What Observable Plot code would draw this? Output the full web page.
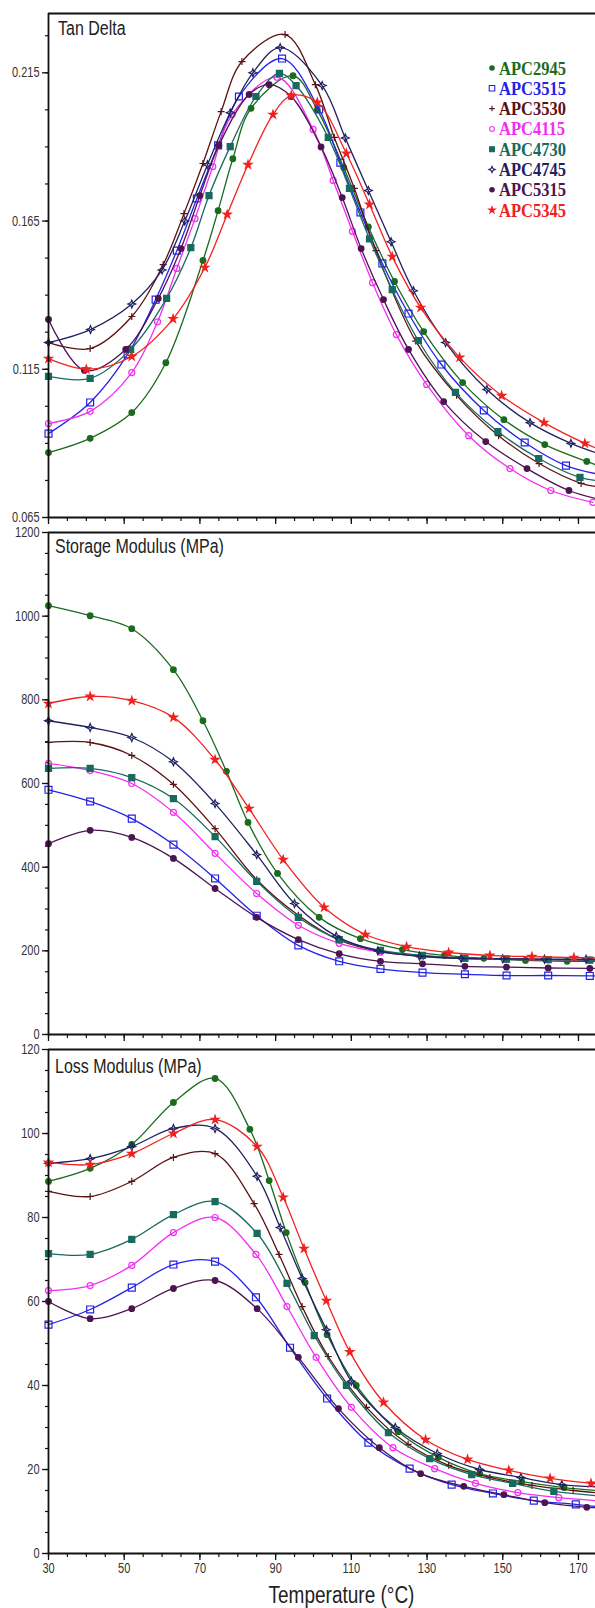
<!DOCTYPE html>
<html><head><meta charset="utf-8">
<script src="https://cdn.jsdelivr.net/npm/d3@7"></script>
<script src="https://cdn.jsdelivr.net/npm/@observablehq/plot@0.6"></script>
<style>
html,body{margin:0;padding:0;background:#fff;}
#wrap{position:relative;width:595px;height:1608px;overflow:hidden;background:#fff;}
#wrap svg.panel{display:block;}
#overlay{position:absolute;left:0;top:0;pointer-events:none;}
</style></head><body><div id="wrap"></div>
<script>
// ---------------- DATA ----------------
const seriesNames = ["APC2945","APC3515","APC3530","APC4115","APC4730","APC4745","APC5315","APC5345"];
const panelTitles = ["Tan Delta","Storage Modulus (MPa)","Loss Modulus (MPa)"];
const xAxisTitle = "Temperature (\u00B0C)";
const xTickLabels = [30,50,70,90,110,130,150,170];
const tanTicks = [0.065,0.115,0.165,0.215];
const storageTicks = [0,200,400,600,800,1000,1200];
const lossTicks = [0,20,40,60,80,100,120];

// Tan Delta [temperature, value]
const tan2945 = [[30,0.0869],[41,0.0917],[52,0.1004],[61,0.1172],[70.8,0.1517],[74.8,0.1685],[78.7,0.186],[83.5,0.203],[94.6,0.214],[101,0.2025],[108,0.183],[114.5,0.163],[121.4,0.1446],[129.1,0.1277],[139.4,0.1105],[150.3,0.098],[161.1,0.0896],[172.2,0.0839],[174.5,0.0828]];
const tan3515 = [[30,0.0933],[41,0.1038],[50.9,0.120],[58.3,0.1385],[63.9,0.155],[69.2,0.1726],[74.8,0.1905],[80.3,0.207],[91.7,0.2198],[101.5,0.2026],[107.1,0.1847],[112.4,0.1679],[118.2,0.1507],[125.1,0.1338],[133.8,0.1166],[145,0.1011],[155.8,0.0903],[166.7,0.0825],[174.5,0.0798]];
const tan3530 = [[30,0.124],[41,0.122],[52,0.1328],[60.3,0.1503],[65.8,0.1675],[70.8,0.1844],[75.6,0.2019],[81.1,0.2188],[92.5,0.2279],[100.5,0.211],[105.5,0.1932],[110.8,0.176],[116.5,0.155],[127,0.1245],[137.8,0.1062],[148.9,0.0926],[159.6,0.0832],[170.7,0.0765],[174.5,0.0755]];
const tan4115 = [[30,0.0967],[41,0.1008],[52,0.1139],[58.8,0.131],[63.9,0.149],[68.7,0.1658],[73.4,0.1834],[78.5,0.2009],[90.4,0.2135],[99.9,0.1959],[105.2,0.1787],[110.3,0.1615],[115.6,0.1442],[121.9,0.1267],[129.9,0.1099],[141,0.0926],[151.9,0.0815],[162.7,0.0741],[173.8,0.0701]];
const tan4730 = [[30,0.1126],[41,0.1119],[51.7,0.1217],[61.2,0.1389],[67.6,0.156],[72.4,0.1736],[78,0.1901],[84.8,0.207],[91,0.2148],[95.4,0.2107],[103.9,0.1932],[109.5,0.176],[114.8,0.159],[120.8,0.1419],[127.7,0.1247],[137.5,0.1072],[148.7,0.094],[159.5,0.0849],[170.4,0.0785],[174.5,0.0775]];
const tan4745 = [[30,0.124],[41.1,0.1284],[52,0.137],[60,0.1485],[66,0.165],[72,0.184],[78,0.2015],[84,0.215],[91.2,0.2235],[102.3,0.2107],[108.4,0.193],[114.5,0.1753],[120.5,0.158],[126.4,0.1415],[134.9,0.124],[145.8,0.1082],[157.2,0.097],[168,0.090],[174.5,0.0869]];
const tan5315 = [[30,0.1318],[39.5,0.1146],[50.4,0.1217],[59,0.1389],[65,0.1557],[70,0.1736],[75,0.1905],[83,0.2077],[88.3,0.211],[94.1,0.207],[102,0.190],[107.6,0.1729],[112.6,0.1557],[118.5,0.1385],[125.1,0.1217],[134.4,0.1041],[145.5,0.0906],[156.4,0.0815],[167.5,0.0741],[174.5,0.0714]];
const tan5345 = [[30,0.1186],[40,0.115],[52,0.1193],[62.9,0.132],[71.3,0.1493],[77.2,0.1672],[82.7,0.184],[89.3,0.2009],[94.1,0.2073],[101,0.205],[108.7,0.1878],[114.8,0.1706],[120.8,0.153],[128.3,0.1358],[138.6,0.119],[149.7,0.1061],[160.9,0.097],[171.7,0.090],[174.5,0.0885]];

// Storage modulus (MPa)
const st2945 = [[30,1025],[41,1001],[52,970],[63,872],[70.8,750],[77,629],[82.7,507],[90.5,385],[101.5,280],[112.4,229],[123.5,203],[134.6,189],[145,182],[156,177],[167,175],[174.5,175]];
const st3515 = [[30,585],[41,557],[52,516],[63,454],[74,373],[85,284],[96,213],[106.8,175],[117.7,157],[128.8,148],[140,144],[151,141],[162,141],[173,140],[174.5,140]];
const st3530 = [[30,698],[41,698],[52,667],[63,598],[74,492],[85,370],[96,285],[107,225],[118,198],[129,187],[140,182],[151,180],[162,179],[173,178],[174.5,178]];
const st4115 = [[30,648],[41,631],[52,600],[63,531],[74,433],[85,337],[96,261],[106.8,218],[117.7,197],[128.8,188],[140,182],[151,180],[162,179],[173,178],[174.5,178]];
const st4730 = [[30,636],[41,636],[52,614],[63,564],[74,473],[85,366],[96,280],[106.8,227],[117.7,201],[128.8,189],[140,182],[151,180],[162,179],[173,178],[174.5,178]];
const st4745 = [[30,750],[41,734],[52,710],[63,652],[74,552],[85,430],[95,313],[106,235],[117,200],[128,187],[139,182],[150,181],[161,180],[172,180],[174.5,180]];
const st5315 = [[30,456],[41,488],[52,471],[63,421],[74,349],[85,280],[96,227],[106.8,193],[117.7,175],[128.8,169],[140,163],[151,161],[162,159],[173,158],[174.5,158]];
const st5345 = [[30,791],[41,808],[52,798],[63,758],[74,657],[83,540],[92,418],[102.8,304],[113.7,239],[124.6,210],[135.7,196],[146.6,189],[157.7,186],[168.8,184],[174.5,183]];

// Loss modulus (MPa)
const loss2945 = [[30,88.6],[41,91.7],[52,97.4],[63,107.4],[74,113.1],[83.2,101],[88.3,88.8],[92.8,76.4],[97.8,64.5],[103.6,52.1],[111.3,40.0],[122.4,29.0],[133,22.9],[143.9,19.0],[155,17.1],[166.2,15.7],[174.5,15.0]];
const loss3515 = [[30,54.5],[41,58.1],[52,63.3],[63,68.8],[74,69.5],[84.8,61.0],[93.8,49.0],[103.6,36.9],[114.5,26.4],[125.4,20.2],[136.5,16.4],[147.4,14.3],[158.2,12.6],[169.3,11.7],[174.5,11.2]];
const loss3530 = [[30,86.2],[41,85.0],[52,88.6],[63,94.3],[74,95.2],[84.3,83.3],[90.9,71.2],[97,58.8],[103.9,46.9],[114,34.8],[125,26],[135.7,21],[146.6,18.1],[157.7,16.2],[168.6,15.0],[174.5,14.5]];
const loss4115 = [[30,62.6],[41,63.8],[52,68.6],[63,76.4],[74,80.0],[84.8,71.2],[93,58.8],[100.7,46.7],[110,34.8],[121,25.2],[132,20.2],[142.8,16.7],[154,14.5],[164.8,13.3],[174.5,12.6]];
const loss4730 = [[30,71.4],[41,71.2],[52,74.8],[63,80.7],[74,83.8],[85.1,76.2],[93,64.3],[100.2,51.9],[108.7,40.0],[119.8,28.8],[130.7,22.6],[141.8,18.8],[152.6,16.7],[163.5,14.8],[174.4,13.8]];
const loss4745 = [[30,92.9],[41,94.0],[52,96.9],[63,101.2],[74,101.2],[85.1,89.8],[91.2,77.6],[97,65.5],[103.4,53.3],[110,41],[121.6,30],[132.7,23.8],[143.9,20.0],[154.8,18.1],[165.6,16.4],[174.5,15.9]];
const loss5315 = [[30,60.0],[41,55.9],[52,58.3],[63,63.1],[74,65.0],[85.1,58.3],[96,46.7],[106.6,34.5],[117.4,25.2],[128.3,19.0],[139.7,16.0],[150.3,14.0],[161.1,12.1],[172.2,11.0],[174.5,10.9]];
const loss5345 = [[30,93.1],[41,92.6],[52,95.2],[63,100],[74,103.3],[85.1,96.9],[92,84.8],[97.5,72.6],[103.4,60.2],[109.6,48.0],[118.5,36.0],[129.6,27.1],[140.7,22.4],[151.6,19.8],[162.5,17.9],[173.3,16.7],[174.5,16.6]];

const tanSeries = [tan2945,tan3515,tan3530,tan4115,tan4730,tan4745,tan5315,tan5345];
const storageSeries = [st2945,st3515,st3530,st4115,st4730,st4745,st5315,st5345];
const lossSeries = [loss2945,loss3515,loss3530,loss4115,loss4730,loss4745,loss5315,loss5345];

// ---------------- STYLE ----------------
const colors = ["#1b6b1e","#2323e8","#5c1214","#f22ef2","#196a5e","#1f2161","#4c1551","#f22020"];
const sparkle = {draw(ctx, size){const r=Math.sqrt(size/Math.PI)*1.35, w=r*0.3;
  ctx.moveTo(0,-r);ctx.lineTo(w,-w);ctx.lineTo(r,0);ctx.lineTo(w,w);ctx.lineTo(0,r);ctx.lineTo(-w,w);ctx.lineTo(-r,0);ctx.lineTo(-w,-w);ctx.closePath();}};
const symbols = [d3.symbolCircle,d3.symbolSquare,d3.symbolPlus,d3.symbolCircle,d3.symbolSquare,sparkle,d3.symbolCircle,d3.symbolStar];
const filled = [true,false,false,false,true,false,true,true];
const radii = [2.8,3.9,2.4,3.0,3.4,2.9,2.8,2.5];
const STRETCH = 1.3;
const W = 595, ML = 48;
const xDomain = [30,174.5];

// stretch text vertically around its anchor (the reference lettering is tall and narrow)
function stretchTexts(root,k){
  root.querySelectorAll("text").forEach(t=>{
    let tx=0, ty=0;
    ["x","y"].forEach(a=>{
      const v=t.getAttribute(a);
      if (v!=null && /^-?[\d.]+(px)?$/.test(v.trim())) { if(a==="x") tx=parseFloat(v); else ty=parseFloat(v); t.removeAttribute(a); }
    });
    const tr=t.getAttribute("transform")||"";
    t.setAttribute("transform",`${tr} translate(${tx},${ty}) scale(1,${k})`);
  });
}

function panel(seriesList,{yDomain,yMajor,yMinorStep,yFormat,height,mt,mb,xLabels}){
  const yMinor = d3.range(Math.round((yDomain[1]-yDomain[0])/yMinorStep)).map(i=>yDomain[0]+i*yMinorStep);
  const xMinor = d3.range(30,175,5);
  const marks = [
    Plot.axisY(yMinor,{tickSize:3,tickFormat:()=>"",label:null,stroke:"#111",strokeWidth:1.2}),
    Plot.axisY(yMajor,{tickSize:6,tickPadding:3,tickFormat:yFormat,label:null,stroke:"#111",strokeWidth:1.3,fill:"#333",fontSize:11}),
    Plot.axisX(xMinor,{tickSize:4,tickFormat:()=>"",label:null,stroke:"#111",strokeWidth:1.2}),
    Plot.axisX(xTickLabels,{tickSize:7,tickPadding:2,tickFormat:xLabels?(d=>String(d)):(()=>""),label:null,stroke:"#111",strokeWidth:1.3,fill:"#333",fontSize:11}),
  ];
  seriesList.forEach((pts,i)=>{
    marks.push(Plot.line(pts,{x:d=>d[0],y:d=>d[1],curve:"catmull-rom",stroke:colors[i],strokeWidth:1.3}));
    marks.push(Plot.dot(pts.filter(d=>d[0]<174),{x:d=>d[0],y:d=>d[1],symbol:symbols[i],r:radii[i],
      fill:filled[i]?colors[i]:"none",stroke:colors[i],strokeWidth:1.2}));
  });
  marks.push(Plot.ruleY([yDomain[0],yDomain[1]],{stroke:"#111",strokeWidth:1.8}));
  marks.push(Plot.ruleX([xDomain[0]],{stroke:"#111",strokeWidth:1.8}));
  const svg = Plot.plot({
    width:W,height,marginLeft:ML,marginRight:0,marginTop:mt,marginBottom:mb,
    x:{domain:xDomain},y:{domain:yDomain},
    style:{fontFamily:"'Liberation Sans', Arial, sans-serif",fontSize:"11px",color:"#222",background:"white",overflow:"visible"},
    marks
  });
  svg.classList.add("panel");
  stretchTexts(svg,STRETCH);
  return svg;
}

const wrap = document.getElementById("wrap");
wrap.appendChild(panel(tanSeries,{yDomain:[0.065,0.235],yMajor:tanTicks,yMinorStep:0.0125,yFormat:d=>d.toFixed(3),height:525,mt:13,mb:8,xLabels:false}));
wrap.appendChild(panel(storageSeries,{yDomain:[0,1200],yMajor:storageTicks,yMinorStep:50,yFormat:d=>String(d),height:517,mt:7,mb:8,xLabels:false}));
wrap.appendChild(panel(lossSeries,{yDomain:[0,120],yMajor:lossTicks,yMinorStep:5,yFormat:d=>String(d),height:566,mt:7,mb:55,xLabels:true}));

// ---------------- OVERLAY: titles, legend, axis title ----------------
const ov = d3.select(wrap).append("svg").attr("id","overlay").attr("width",W).attr("height",1608);
const titlePos = [[58,35],[55,553],[55,1073]];
panelTitles.forEach((t,i)=>{
  ov.append("text").attr("transform",`translate(${titlePos[i][0]},${titlePos[i][1]}) scale(1,${STRETCH})`)
    .attr("font-family","'Liberation Sans', Arial, sans-serif").attr("font-size",16).attr("fill","#222").text(t);
});
ov.append("text").attr("transform",`translate(341.5,1603) scale(1,1.25)`).attr("text-anchor","middle")
  .attr("font-family","'Liberation Sans', Arial, sans-serif").attr("font-size",19).attr("fill","#222").text(xAxisTitle);
seriesNames.forEach((name,i)=>{
  const cy = 68 + i*20.3;
  ov.append("path").attr("transform",`translate(492,${cy})`)
    .attr("d",d3.symbol(symbols[i],Math.PI*Math.pow(radii[i]*0.8,2))())
    .attr("fill",filled[i]?colors[i]:"none").attr("stroke",colors[i]).attr("stroke-width",1.1);
  ov.append("text").attr("transform",`translate(499,${cy+6.5}) scale(1,1.2)`)
    .attr("font-family","'Liberation Serif', 'Times New Roman', serif").attr("font-weight","bold")
    .attr("font-size",16.5).attr("fill",colors[i]).text(name);
});
</script></body></html>
